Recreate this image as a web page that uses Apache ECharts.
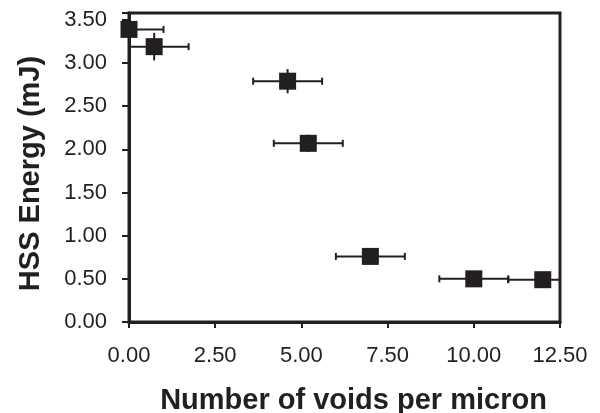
<!DOCTYPE html>
<html>
<head>
<meta charset="utf-8">
<script src="https://cdn.jsdelivr.net/npm/echarts@6/dist/echarts.min.js"></script>
<style>
html,body{margin:0;padding:0;background:#fff;}
#chart{width:600px;height:413px;}
</style>
</head>
<body>
<div id="chart"></div>
<script>
// Data
var voids   = [0.00, 0.73, 4.60, 5.20, 7.00, 10.00, 12.00];
var energy  = [3.39, 3.19, 2.79, 2.07, 0.76, 0.50, 0.49];
var xError  = [1.00, 1.00, 1.00, 1.00, 1.00, 1.00, 1.00];
var yError  = [0.05, 0.16, 0.14, 0.10, 0.05, 0.05, 0.05];
var xTicks  = ['0.00', '2.50', '5.00', '7.50', '10.00', '12.50'];
var yTicks  = ['0.00', '0.50', '1.00', '1.50', '2.00', '2.50', '3.00', '3.50'];

var INK = '#231f20';
var FONT = '"Liberation Sans", Arial, Helvetica, sans-serif';

var points = voids.map(function (v, i) { return [v, energy[i]]; });
var errData = voids.map(function (v, i) { return [v, energy[i], xError[i], yError[i]]; });

function renderErr(params, api) {
  var x = api.value(0), y = api.value(1), ex = api.value(2), ey = api.value(3);
  var cs = params.coordSys;
  var c = api.coord([x, y]);
  var l = api.coord([x - ex, y]);
  var r = api.coord([x + ex, y]);
  var t = api.coord([x, y + ey]);
  var b = api.coord([x, y - ey]);
  var minX = cs.x, maxX = cs.x + cs.width;
  var lx = Math.max(l[0], minX), rx = Math.min(r[0], maxX);
  var style = { stroke: INK, lineWidth: 2 };
  var cap = 3.5;
  var children = [
    { type: 'line', shape: { x1: lx, y1: c[1], x2: rx, y2: c[1] }, style: style },
    { type: 'line', shape: { x1: c[0], y1: t[1], x2: c[0], y2: b[1] }, style: style }
  ];
  if (l[0] >= minX) children.push({ type: 'line', shape: { x1: l[0], y1: c[1] - cap, x2: l[0], y2: c[1] + cap }, style: style });
  if (r[0] <= maxX) children.push({ type: 'line', shape: { x1: r[0], y1: c[1] - cap, x2: r[0], y2: c[1] + cap }, style: style });
  return { type: 'group', children: children };
}

var chart = echarts.init(document.getElementById('chart'), null, { renderer: 'canvas' });
chart.setOption({
  animation: false,
  backgroundColor: '#fff',
  grid: {
    left: 129, top: 13, right: 40, bottom: 91,
    containLabel: false, outerBoundsMode: 'none',
    show: true, borderColor: INK, borderWidth: 3, backgroundColor: 'transparent'
  },
  xAxis: {
    type: 'value', min: 0, max: 12.5, interval: 2.5,
    name: 'Number of voids per micron',
    nameLocation: 'middle', nameGap: 64,
    nameTextStyle: { fontFamily: FONT, fontWeight: 'bold', fontSize: 29, color: INK, padding: [0, 0, 0, 18] },
    axisLine: { show: true, lineStyle: { color: INK, width: 3 } },
    axisTick: { show: true, inside: false, length: 6, lineStyle: { color: INK, width: 2 } },
    axisLabel: {
      margin: 23, fontFamily: FONT, fontSize: 22, color: INK,
      formatter: function (v) { var i = Math.round(v / 2.5); return Math.abs(v - i * 2.5) < 1e-6 ? (xTicks[i] || '') : ''; }
    },
    splitLine: { show: false }
  },
  yAxis: {
    type: 'value', min: 0, max: 3.58, interval: 0.5,
    name: 'HSS Energy (mJ)',
    nameLocation: 'middle', nameGap: 84,
    nameTextStyle: { fontFamily: FONT, fontWeight: 'bold', fontSize: 29, color: INK, padding: [0, 12, 0, 0] },
    axisLine: { show: true, lineStyle: { color: INK, width: 3 } },
    axisTick: { show: true, inside: false, length: 7, lineStyle: { color: INK, width: 2 } },
    axisLabel: {
      margin: 22, fontFamily: FONT, fontSize: 22, color: INK,
      formatter: function (v) { var i = Math.round(v / 0.5); return Math.abs(v - i * 0.5) < 1e-6 ? (yTicks[i] || '') : ''; }
    },
    splitLine: { show: false }
  },
  series: [
    {
      type: 'custom',
      renderItem: renderErr,
      data: errData,
      encode: { x: 0, y: 1 },
      z: 2,
      clip: true
    },
    {
      type: 'scatter',
      data: points,
      symbol: 'rect',
      symbolSize: 17,
      itemStyle: { color: INK, opacity: 1 },
      z: 3,
      clip: false
    }
  ]
});
</script>
</body>
</html>
